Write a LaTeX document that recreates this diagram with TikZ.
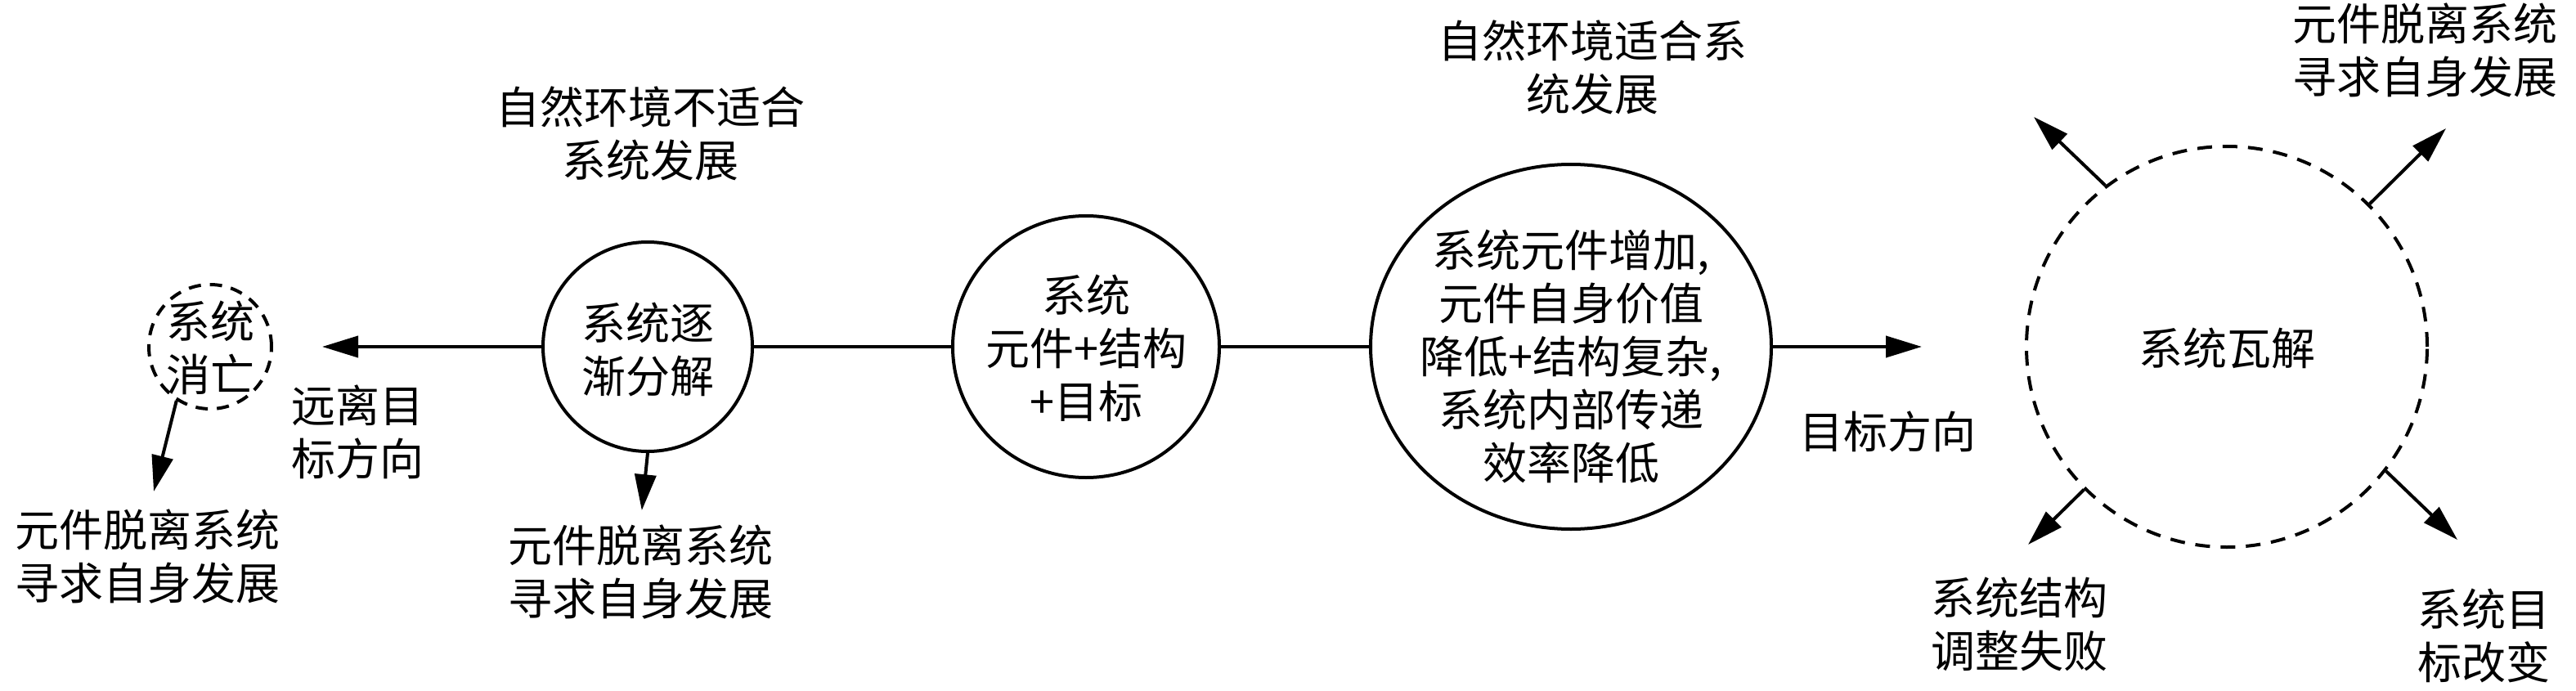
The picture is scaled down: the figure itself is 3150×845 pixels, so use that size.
\documentclass[tikz,border=0pt]{standalone}
\usepackage{fontspec}
\setmainfont{Noto Sans CJK SC}
\usetikzlibrary{arrows.meta,shapes.geometric}
\begin{document}
\begin{tikzpicture}[x=1pt,y=-1pt,
  every node/.style={font=\fontsize{54}{65}\selectfont, align=center, inner sep=0pt},
  ring/.style={draw, line width=4pt, ellipse, inner sep=0pt},
  dashring/.style={draw, line width=4pt, ellipse, inner sep=0pt, dash pattern=on 18pt off 13pt},
  conn/.style={line width=4pt},
  arr/.style={line width=4pt, -{Triangle[length=44pt,width=26pt]}}
]
\useasboundingbox (0,0) rectangle (3150,845);

% shapes
\node[dashring, dash pattern=on 15pt off 11pt, minimum width=150pt, minimum height=152pt] (dead) at (257,424) {};
\node[ring, minimum width=256pt, minimum height=256pt] (decomp) at (792,424) {};
\node[ring, minimum width=326pt, minimum height=320pt] (sys) at (1328,424) {};
\node[ring, minimum width=490pt, minimum height=446pt] (grow) at (1921,424) {};
\node[dashring, minimum width=490pt, minimum height=490pt] (collapse) at (2723,424) {};

% texts inside shapes
\node (deadT) at (257,425) {系统\\消亡};
\node (decompT) at (792,427) {系统逐\\渐分解};
\node (sysT) at (1328,426) {系统\\元件+结构\\+目标};
\node (growT) at (1921,436) {系统元件增加,\\元件自身价值\\降低+结构复杂,\\系统内部传递\\效率降低};
\node (collapseT) at (2723,426) {系统瓦解};

% labels
\node (unfit) at (795,163) {自然环境不适合\\系统发展};
\node (fit) at (1947,82) {自然环境适合系\\统发展};
\node (away) at (437,528) {远离目\\标方向};
\node (goal) at (2308,528) {目标方向};
\node (el1) at (180,681) {元件脱离系统\\寻求自身发展};
\node (el2) at (783,700) {元件脱离系统\\寻求自身发展};
\node (el3) at (2965,62) {元件脱离系统\\寻求自身发展};
\node (fail) at (2469,763) {系统结构\\调整失败};
\node (goalchg) at (3037,777) {系统目\\标改变};

% arrow tips
\coordinate (t1) at (188,601);
\coordinate (tUL) at (2487,143);
\coordinate (tUR) at (2991,157);
\coordinate (tLL) at (2480,666);
\coordinate (tLR) at (3005,660);

% connectors
\draw[conn] (sys.west) -- (decomp.east);
\draw[conn] (grow.west) -- (sys.east);
\draw[arr, shorten >=60pt] (decomp.west) -- (dead.east);
\draw[arr, shorten >=126pt] (grow.east) -- (collapse.west);
\draw[arr, shorten >=18pt] (decomp.south) -- (el2.north);
\draw[arr] (dead.238) -- (t1);
\draw[arr] (collapse.127.5) -- (tUL);
\draw[arr] (collapse.45) -- (tUR);
\draw[arr] (collapse.225) -- (tLL);
\draw[arr] (collapse.-38) -- (tLR);
\end{tikzpicture}
\end{document}
